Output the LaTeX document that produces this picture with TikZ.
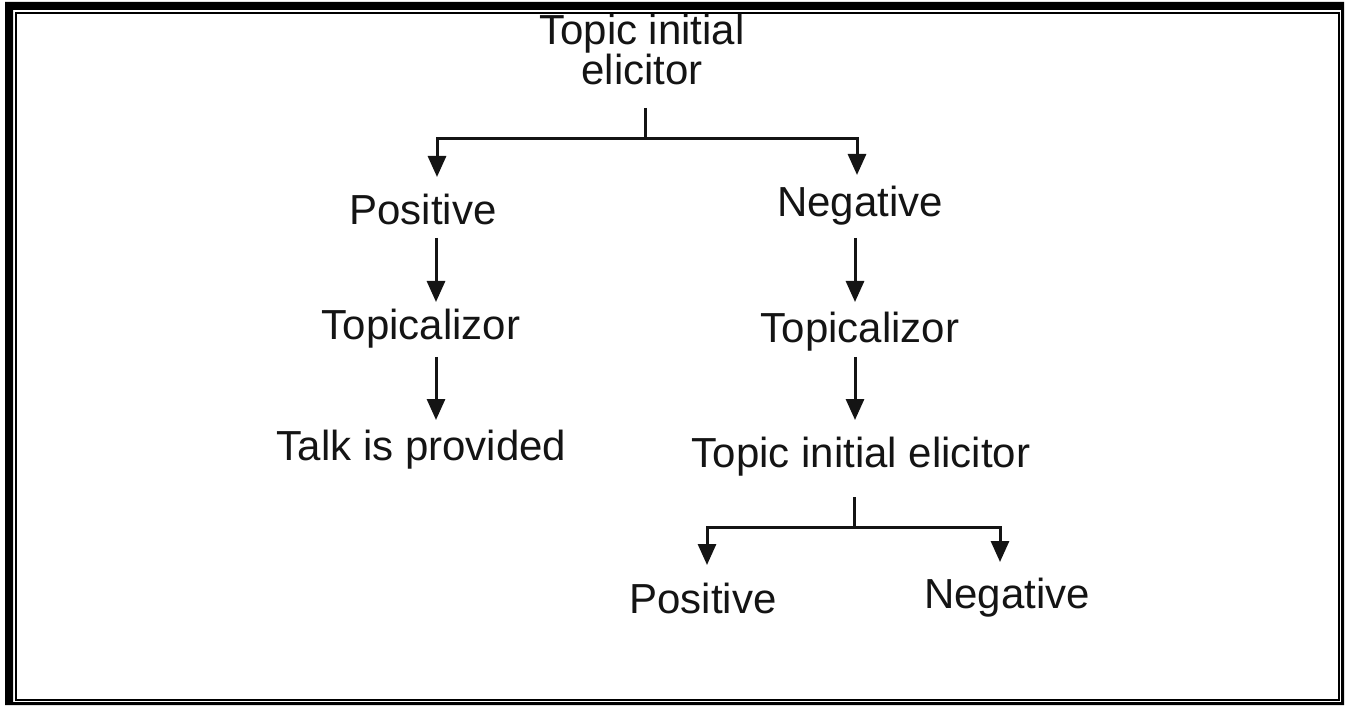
\documentclass[tikz,border=0pt]{standalone}
\usepackage{fontspec}
\setmainfont{Liberation Sans}
\usetikzlibrary{arrows.meta}
\definecolor{ink}{HTML}{141414}
\begin{document}
\begin{tikzpicture}[x=1pt,y=-1pt,
  lbl/.style={inner sep=0pt,anchor=base,text=ink,font=\fontsize{42}{38}\selectfont},
  ln/.style={line width=3pt,draw=ink},
  arr/.style={ln,-{Triangle[width=18pt,length=21pt]}}]
\useasboundingbox (0,0) rectangle (1346,708);
% frame
\fill[black,even odd rule] (5,2) rectangle (1344,705) (13,10) rectangle (1341,702);
\draw[line width=2pt] (16,13) rectangle (1339,700);
% texts
\node[lbl,align=center] (top) at (642,85) {Topic initial\\elicitor};
\node[lbl] (pos1) at (423,225) {Positive};
\node[lbl] (neg1) at (860,217) {Negative};
\node[lbl] (topl) at (421,340) {Topicalizor};
\node[lbl] (topr) at (860,342) {Topicalizor};
\node[lbl] (talk) at (421.5,460) {Talk is provided};
\node[lbl] (tie) at (861,467) {Topic initial elicitor};
\node[lbl] (pos2) at (703,613) {Positive};
\node[lbl] (neg2) at (1007,608) {Negative};
% connector points
\coordinate (s1) at (645,108);
\coordinate (j1) at (645,139);
\coordinate (t1) at (437,177);
\coordinate (t2) at (857,175);
\coordinate (a1) at (436,238);
\coordinate (b1) at (436,302);
\coordinate (a2) at (436,357);
\coordinate (b2) at (436,420);
\coordinate (a3) at (855,238);
\coordinate (b3) at (855,302);
\coordinate (a4) at (855,357);
\coordinate (b4) at (855,420);
\coordinate (s2) at (854,497);
\coordinate (j2) at (854,527);
\coordinate (t3) at (707,565);
\coordinate (t4) at (1000,562);
% connectors
\draw[ln] (s1) -- (j1);
\draw[arr] (j1) -| (t1);
\draw[arr] (j1) -| (t2);
\draw[arr] (a1) -- (b1);
\draw[arr] (a2) -- (b2);
\draw[arr] (a3) -- (b3);
\draw[arr] (a4) -- (b4);
\draw[ln] (s2) -- (j2);
\draw[arr] (j2) -| (t3);
\draw[arr] (j2) -| (t4);
\end{tikzpicture}
\end{document}
